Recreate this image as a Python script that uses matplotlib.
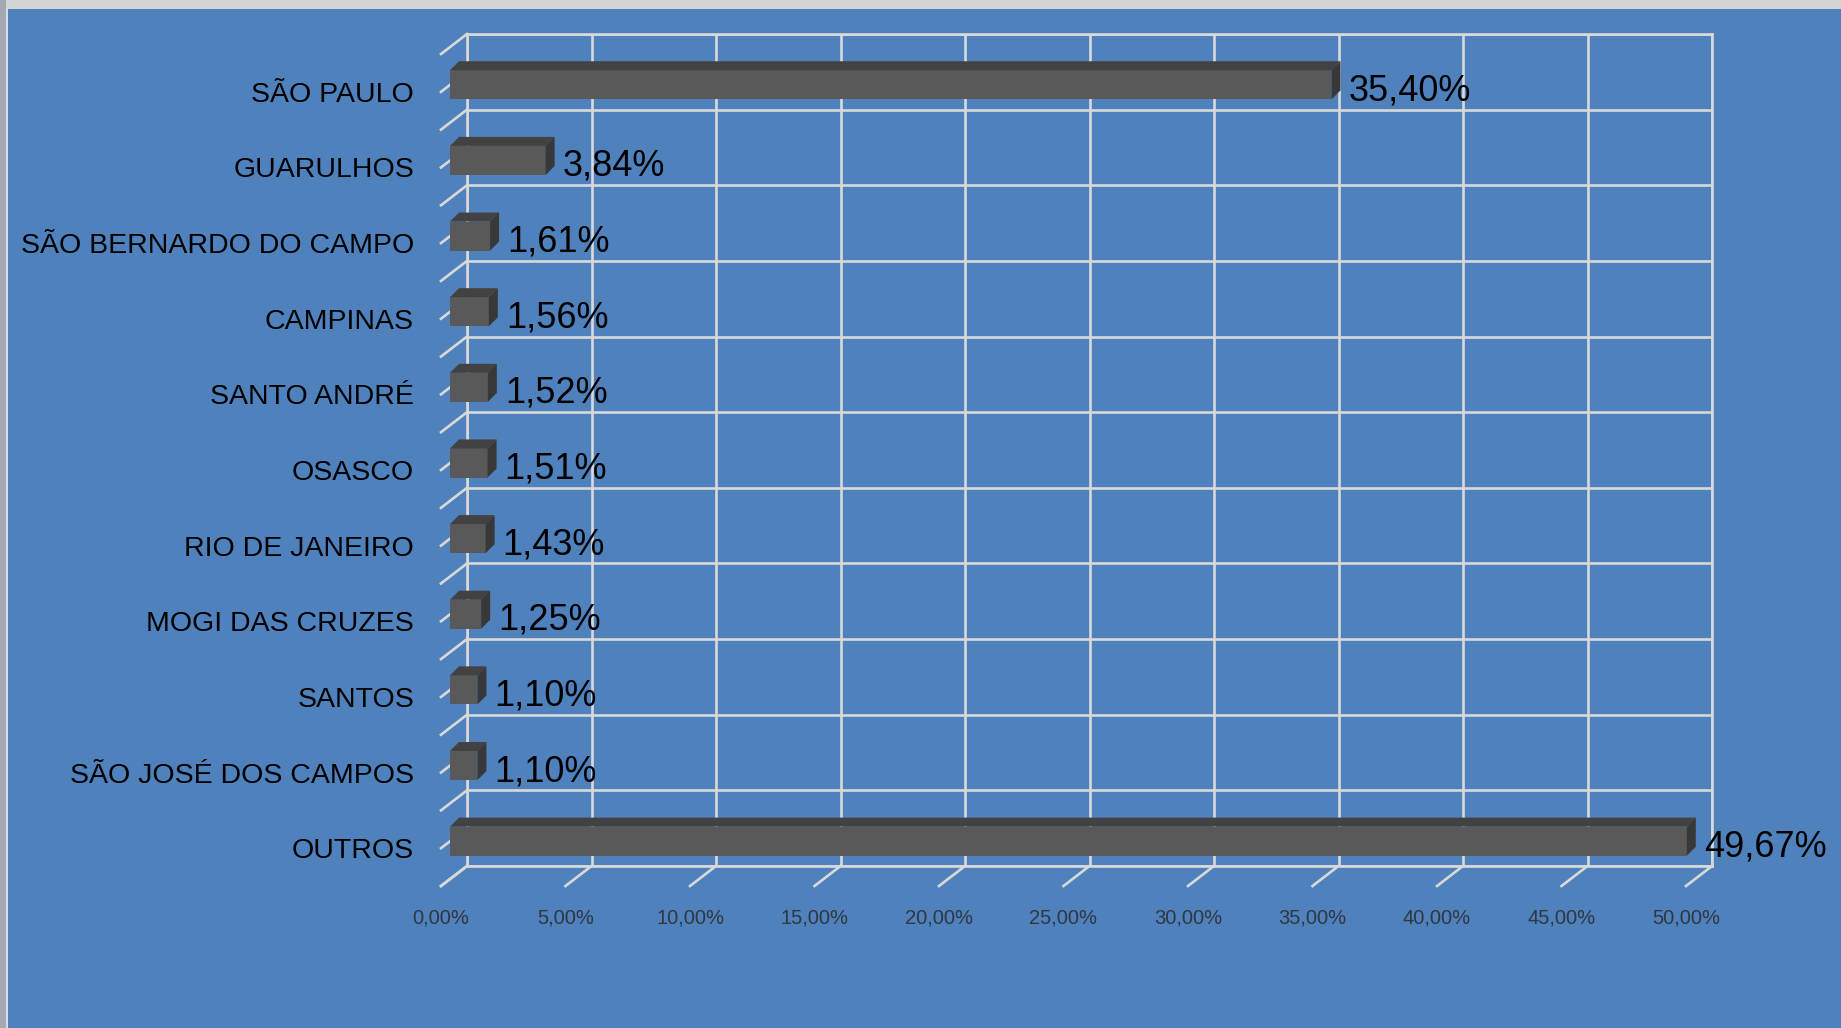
import matplotlib
matplotlib.use("Agg")
import matplotlib.pyplot as plt
from matplotlib import transforms
from matplotlib.patches import Polygon, Rectangle
from matplotlib.lines import Line2D

CITIES = ["SÃO PAULO", "GUARULHOS", "SÃO BERNARDO DO CAMPO", "CAMPINAS",
          "SANTO ANDRÉ", "OSASCO", "RIO DE JANEIRO", "MOGI DAS CRUZES",
          "SANTOS", "SÃO JOSÉ DOS CAMPOS", "OUTROS"]
SHARE = [35.40, 3.84, 1.61, 1.56, 1.52, 1.51, 1.43, 1.25, 1.10, 1.10, 49.67]
XTICKS = [0, 5, 10, 15, 20, 25, 30, 35, 40, 45, 50]

BG = "#4F81BD"
GRID = "#D9D9D9"
FRONT = "#595959"
TOP = "#424242"
SIDE = "#383838"
INK = "#000000"
MUTED = "#2F3742"

W, H = 1841, 1028
FONT = ["Liberation Sans", "DejaVu Sans"]

# pixel offsets (display coords) for the fake 3d depth
FRONT_OFF = (-17, -13)
BACK_OFF = (-8, -4)
FLOOR_OFF = (-26, -20)
BAR_H = 0.385

fig = plt.figure(figsize=(W / 100, H / 100), dpi=100)
fig.patch.set_facecolor(BG)

# window chrome strips on top/left
fig.add_artist(Rectangle((0, (H - 9) / H), 1, 9 / H, transform=fig.transFigure,
                         facecolor="#D3D4D8", edgecolor="none"))
fig.add_artist(Rectangle((0, 0), 6 / W, 1, transform=fig.transFigure,
                         facecolor="#A4A8B0", edgecolor="none"))
fig.add_artist(Rectangle((6 / W, 0), 2 / W, (H - 9) / H, transform=fig.transFigure,
                         facecolor="#D8DCE4", edgecolor="none"))

ax = fig.add_axes([467 / W, (H - 866) / H, (1712 - 467) / W, (866 - 34) / H])
ax.set_facecolor("none")
n = len(CITIES)
ax.set_xlim(0, 50)
ax.set_ylim(n - 0.5, -0.5)
ax.set_xticks(XTICKS)
ax.set_yticks([i - 0.5 for i in range(n + 1)])
ax.tick_params(length=0, labelbottom=False, labelleft=False)
ax.grid(True, color=GRID, linewidth=1.9)
for s in ax.spines.values():
    s.set_color(GRID)
    s.set_linewidth(1.9)

fig.canvas.draw()
ident = transforms.IdentityTransform()


def px(x, y):
    return ax.transData.transform((x, y))


# floor / side wall diagonals
diag = []
for i in range(n + 1):
    diag.append((0, i - 0.5))
for i in range(n):
    diag.append((0, i))
for t in XTICKS:
    diag.append((t, n - 0.5))
for x, y in diag:
    X, Y = px(x, y)
    ax.add_line(Line2D([X, X + FLOOR_OFF[0]], [Y, Y + FLOOR_OFF[1]],
                       transform=ident, color=GRID, linewidth=1.9,
                       clip_on=False, zorder=2))

# bars: front face through barh, shifted forward
shift = transforms.ScaledTranslation(FRONT_OFF[0] / 100, FRONT_OFF[1] / 100,
                                     fig.dpi_scale_trans)
bars = ax.barh(range(n), SHARE, height=BAR_H, color=FRONT, zorder=4)
for p in bars:
    p.set_transform(ax.transData + shift)
    p.set_clip_on(False)

for i, v in enumerate(SHARE):
    x0, yt = px(0, i - BAR_H / 2)
    x1, yb = px(v, i + BAR_H / 2)
    fx, fy = FRONT_OFF
    bx, by = BACK_OFF
    top = [(x0 + fx, yt + fy), (x1 + fx, yt + fy), (x1 + bx, yt + by), (x0 + bx, yt + by)]
    side = [(x1 + fx, yt + fy), (x1 + bx, yt + by), (x1 + bx, yb + by), (x1 + fx, yb + fy)]
    ax.add_patch(Polygon(top, closed=True, transform=ident, facecolor=TOP,
                         edgecolor="none", clip_on=False, zorder=4))
    ax.add_patch(Polygon(side, closed=True, transform=ident, facecolor=SIDE,
                         edgecolor="none", clip_on=False, zorder=4))

# value labels
val_tr = transforms.offset_copy(ax.transData, fig=fig, x=0, y=-19, units="dots")
for i, v in enumerate(SHARE):
    ax.text(v, i, f"{v:.2f}%".replace(".", ","), transform=val_tr,
            ha="left", va="center", fontsize=26, color=INK, family=FONT,
            clip_on=False, zorder=5)

# category labels
cat_tr = transforms.offset_copy(ax.get_yaxis_transform(), fig=fig, x=-53, y=-23,
                                units="dots")
for i, c in enumerate(CITIES):
    ax.text(0, i, c, transform=cat_tr, ha="right", va="center",
            fontsize=20.5, color=INK, family=FONT, clip_on=False)

# value axis labels
tick_tr = transforms.offset_copy(ax.get_xaxis_transform(), fig=fig, x=-26, y=-52,
                                 units="dots")
for t in XTICKS:
    ax.text(t, 0, f"{t:.2f}%".replace(".", ","), transform=tick_tr,
            ha="center", va="center", fontsize=14.5, color=MUTED, family=FONT,
            clip_on=False)

fig.savefig("out.png", dpi=100, facecolor=fig.get_facecolor())
